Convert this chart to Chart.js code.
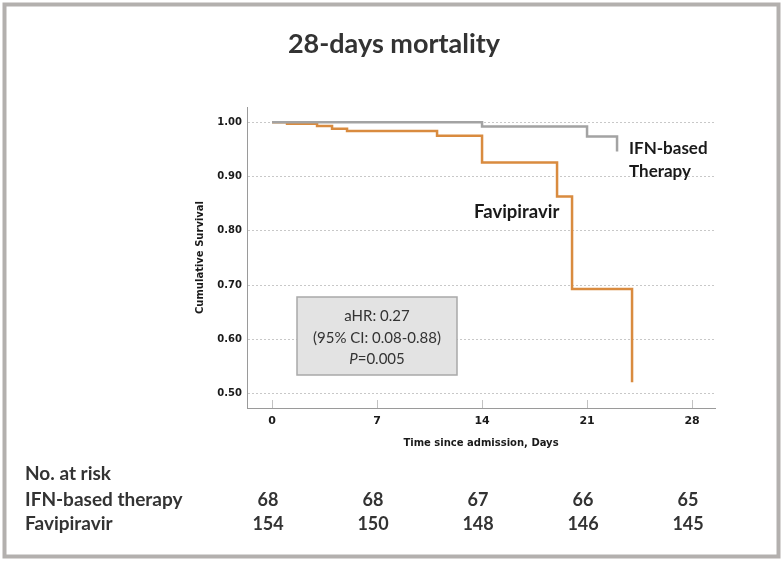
<!DOCTYPE html>
<html>
<head>
<meta charset="utf-8">
<script src="https://cdn.jsdelivr.net/npm/chart.js@4.4.0/dist/chart.umd.min.js"></script>
<style>
  html, body { margin: 0; padding: 0; background: #fff; }
</style>
</head>
<body>
<canvas id="kmCanvas" width="784" height="564"></canvas>
<script>
// Kaplan-Meier steps (day of event, survival after it)
let ifnDays = [0, 14, 21, 23];
let ifnSurv = [1.000, 0.992, 0.9735, 0.946];
let favDays = [0, 1, 3, 4, 5, 11, 14, 19, 20, 24];
let favSurv = [1.000, 0.997, 0.993, 0.988, 0.984, 0.975, 0.926, 0.863, 0.693, 0.521];

let xTicks = [0, 7, 14, 21, 28];
let yTicks = [0.5, 0.6, 0.7, 0.8, 0.9, 1.0];

// number at risk at each x tick
let riskGroups = ['IFN-based therapy', 'Favipiravir'];
let ifnRisk = [68, 68, 67, 66, 65];
let favRisk = [154, 150, 148, 146, 145];

let statLines = ['aHR: 0.27', '(95% CI: 0.08-0.88)'];

function toPoints(days, surv) {
  let pts = [];
  for (let i in days) {
    pts.push({ x: days[i], y: surv[i] });
  }
  return pts;
}

const ink = '#333333';
const labelFont = 'Lato, "DejaVu Sans", sans-serif';

const extras = {
  id: 'extras',
  afterDraw(chart) {
    const ctx = chart.ctx;
    const xs = chart.scales.x;
    const area = chart.chartArea;
    ctx.save();

    // grey frame round the figure
    ctx.strokeStyle = '#b3b0ae';
    ctx.lineWidth = 4;
    ctx.strokeRect(4.5, 4.5, 774, 552);

    // title
    ctx.fillStyle = ink;
    ctx.font = 'bold 27px ' + labelFont;
    ctx.textAlign = 'center';
    ctx.textBaseline = 'alphabetic';
    ctx.fillText('28-days mortality', 394, 53);

    // tick marks pointing into the plot
    ctx.strokeStyle = '#c2c2c2';
    ctx.lineWidth = 1;
    xTicks.forEach(function(t) {
      let px = Math.round(xs.getPixelForValue(t)) + 0.5;
      ctx.beginPath();
      ctx.moveTo(px, area.bottom);
      ctx.lineTo(px, area.bottom - 8);
      ctx.stroke();
    });

    // curve labels
    ctx.fillStyle = '#1a1a1a';
    ctx.textAlign = 'left';
    ctx.font = 'bold 17px ' + labelFont;
    ctx.fillText('IFN-based', 629, 154);
    ctx.fillText('Therapy', 629, 177);
    ctx.font = 'bold 18.5px ' + labelFont;
    ctx.fillText('Favipiravir', 474, 218);

    // statistics box
    ctx.fillStyle = '#e3e3e3';
    ctx.fillRect(297, 297, 160, 78);
    ctx.strokeStyle = '#a9a9a9';
    ctx.lineWidth = 1.5;
    ctx.strokeRect(297, 297, 160, 78);
    ctx.fillStyle = ink;
    ctx.textAlign = 'center';
    ctx.font = '15px ' + labelFont;
    ctx.fillText(statLines[0], 377, 321);
    ctx.fillText(statLines[1], 377, 343);
    // P=0.005 with italic P
    ctx.font = 'italic 15px ' + labelFont;
    let wP = ctx.measureText('P').width;
    ctx.font = '15px ' + labelFont;
    let wRest = ctx.measureText('=0.005').width;
    let startX = 377 - (wP + wRest) / 2;
    ctx.textAlign = 'left';
    ctx.font = 'italic 15px ' + labelFont;
    ctx.fillText('P', startX, 364);
    ctx.font = '15px ' + labelFont;
    ctx.fillText('=0.005', startX + wP, 364);

    // number at risk table
    ctx.fillStyle = ink;
    ctx.font = 'bold 19px ' + labelFont;
    ctx.textAlign = 'left';
    ctx.fillText('No. at risk', 25, 480);
    ctx.fillText(riskGroups[0], 25, 506);
    ctx.fillText(riskGroups[1], 25, 530);
    ctx.font = 'bold 18px ' + labelFont;
    ctx.textAlign = 'center';
    xTicks.forEach(function(t, i) {
      let px = xs.getPixelForValue(t) - 4;
      ctx.fillText(String(ifnRisk[i]), px, 506);
      ctx.fillText(String(favRisk[i]), px, 530);
    });

    ctx.restore();
  }
};

let axisFont = { family: 'DejaVu Sans', size: 11, weight: 'bold' };

new Chart(document.getElementById('kmCanvas'), {
  type: 'line',
  data: {
    datasets: [{
      label: 'IFN-based Therapy',
      data: toPoints(ifnDays, ifnSurv),
      borderColor: '#a3a3a3',
      borderWidth: 2.5,
      stepped: true,
      pointRadius: 0,
      fill: false
    }, {
      label: 'Favipiravir',
      data: toPoints(favDays, favSurv),
      borderColor: '#d98b3f',
      borderWidth: 2.5,
      stepped: true,
      pointRadius: 0,
      fill: false
    }]
  },
  options: {
    responsive: false,
    animation: false,
    layout: { padding: { left: 190, right: 69, top: 107, bottom: 110 } },
    plugins: {
      legend: { display: false },
      tooltip: { enabled: false },
      title: { display: false }
    },
    scales: {
      x: {
        type: 'linear',
        min: -1.67,
        max: 29.53,
        afterBuildTicks: function(s) { s.ticks = xTicks.map(v => ({ value: v })); },
        afterFit: function(s) { s.height = 46; },
        grid: { drawOnChartArea: false, drawTicks: false },
        border: { color: '#9a9a9a', width: 1 },
        ticks: { padding: 7, color: '#1a1a1a', font: axisFont, maxRotation: 0, autoSkip: false },
        title: {
          display: true,
          text: 'Time since admission, Days',
          color: '#1a1a1a',
          font: { family: 'DejaVu Sans', size: 10, weight: 'bold' },
          padding: { top: 0, bottom: 5 }
        }
      },
      y: {
        type: 'linear',
        min: 0.4737,
        max: 1.028,
        afterBuildTicks: function(s) { s.ticks = yTicks.map(v => ({ value: v })); },
        afterFit: function(s) { s.width = 57; },
        grid: { color: '#c8c8c8', drawTicks: false },
        border: { color: '#9a9a9a', width: 1, dash: [2, 2] },
        ticks: {
          padding: 5,
          color: '#1a1a1a',
          font: { family: 'DejaVu Sans', size: 10, weight: 'bold' },
          callback: function(v) { return v.toFixed(2); }
        },
        title: {
          display: true,
          text: 'Cumulative Survival',
          color: '#1a1a1a',
          font: { family: 'DejaVu Sans', size: 10, weight: 'bold' },
          padding: { top: 4, bottom: 0 }
        }
      }
    }
  },
  plugins: [extras]
});
</script>
</body>
</html>
